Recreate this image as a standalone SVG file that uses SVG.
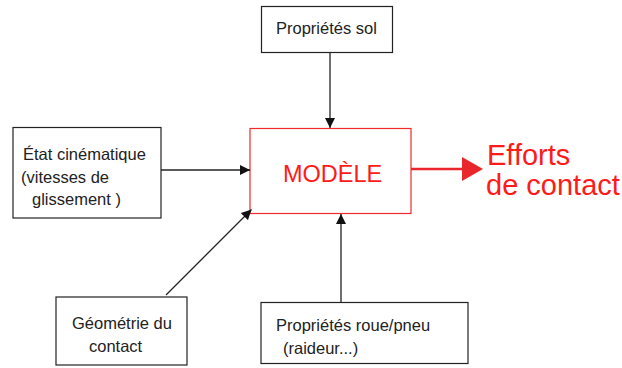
<svg xmlns="http://www.w3.org/2000/svg" width="622" height="368" viewBox="0 0 622 368">
<defs>
<style>
.box{fill:#fff;stroke:#222;stroke-width:1.2}
.t{font-family:"Liberation Sans",Arial,sans-serif;font-size:16.5px;fill:#222}
.red{fill:#ff1a1a;font-family:"Liberation Sans",Arial,sans-serif}
.c{stroke:#222;stroke-width:1.3;fill:none}
</style>
<marker id="ah" viewBox="0 0 10 10" refX="10" refY="5" markerWidth="10" markerHeight="10" markerUnits="userSpaceOnUse" orient="auto">
<path d="M0,0 L10,5 L0,10 Z" fill="#111"/>
</marker>
</defs>
<g id="sol">
<rect class="box" x="261.5" y="6.5" width="131" height="46"/>
<text class="t" x="276" y="34">Propriétés sol</text>
</g>
<g id="modele">
<rect x="250" y="128.5" width="161" height="85" fill="#fff" stroke="#ee2a2a" stroke-width="1.2"/>
<text class="red" x="283" y="182" font-size="23.5">MODÈLE</text>
</g>
<g id="etat">
<rect class="box" x="13" y="127.5" width="148" height="90.5"/>
<text class="t" x="23" y="160">État cinématique</text>
<text class="t" x="21" y="183">(vitesses de</text>
<text class="t" x="32" y="205">glissement )</text>
</g>
<g id="geometrie">
<rect class="box" x="56" y="297" width="131" height="68"/>
<text class="t" x="72" y="329">Géométrie du</text>
<text class="t" x="89" y="352">contact</text>
</g>
<g id="roue">
<rect class="box" x="261" y="302.5" width="207" height="61"/>
<text class="t" x="276" y="331">Propriétés roue/pneu</text>
<text class="t" x="283" y="354">(raideur...)</text>
</g>
<g id="efforts">
<text class="red" x="487" y="165" font-size="29">Efforts</text>
<text class="red" x="486" y="195" font-size="29">de contact</text>
</g>
<g id="connectors">
<line class="c" x1="330" y1="52.5" x2="330" y2="128" marker-end="url(#ah)"/>
<line class="c" x1="161" y1="170" x2="250" y2="170" marker-end="url(#ah)"/>
<line class="c" x1="166" y1="295" x2="251.5" y2="209.5" marker-end="url(#ah)"/>
<line class="c" x1="341" y1="302" x2="341" y2="214" marker-end="url(#ah)"/>
<line x1="411" y1="169" x2="464" y2="169" stroke="#e8262b" stroke-width="2.5"/>
<path d="M462,157 L483,169 L462,181 Z" fill="#e8262b"/>
</g>
</svg>
